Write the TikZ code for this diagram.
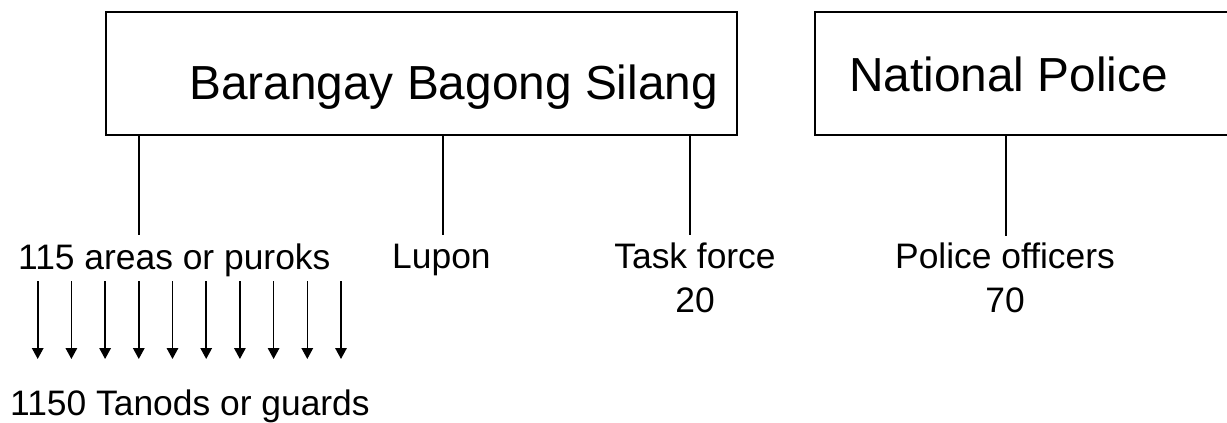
\documentclass[tikz,border=0pt]{standalone}
\usepackage{fontspec}
\setmainfont{Liberation Sans}
\usetikzlibrary{arrows.meta}
\begin{document}
\begin{tikzpicture}[x=1pt,y=-1pt,
  big/.style={font=\fontsize{47.8}{56}\selectfont, inner sep=0pt},
  small/.style={font=\fontsize{35.4}{44}\selectfont, inner sep=0pt, align=center},
  boxline/.style={line width=1.8pt, draw=black},
  conn/.style={line width=1.1pt, draw=black},
  arr/.style={line width=1.6pt, -{Triangle[width=11.5pt,length=11pt]}}]
\useasboundingbox (0,0) rectangle (1227,423);
\fill[white] (0,0) rectangle (1227,423);
% Barangay box
\node[boxline, rectangle, minimum width=631pt, minimum height=123pt, inner sep=0pt, anchor=north west] (bbs) at (105,11) {};
\node[big, anchor=base west] (bbsT) at (189,99) {Barangay Bagong Silang};
% National Police box (right edge outside the picture)
\begin{scope}
\clip (0,0) rectangle (1227,423);
\node[boxline, rectangle, minimum width=450pt, minimum height=123pt, inner sep=0pt, anchor=north west] (np) at (814,11) {};
\end{scope}
\node[big, anchor=base west] (npT) at (849,91) {National Police};
% second row
\node[small, anchor=base west] (areas) at (18,269) {115 areas or puroks};
\node[small, anchor=base west] (lupon) at (392,268) {Lupon};
\node[small, anchor=base] (task) at (695,312) {Task force\\20};
\node[small, anchor=base] (police) at (1005,312) {Police officers\\70};
\node[small, anchor=base west] (tanods) at (10,415) {1150 Tanods or guards};
% connector ends
\coordinate (c1) at (139,235);
\coordinate (c2) at (443,235);
\coordinate (c3) at (690,235);
\coordinate (c4) at (1006,236);
\draw[conn] (bbs.south -| c1) -- (c1);
\draw[conn] (bbs.south -| c2) -- (c2);
\draw[conn] (bbs.south -| c3) -- (c3);
\draw[conn] (np.south -| c4) -- (c4);
% arrows
\foreach \i in {0,...,9} {
  \coordinate (as\i) at ({37.7+33.7*\i},281);
  \coordinate (ae\i) at ({37.7+33.7*\i},359);
  \draw[arr] (as\i) -- (ae\i);
}
\end{tikzpicture}
\end{document}
